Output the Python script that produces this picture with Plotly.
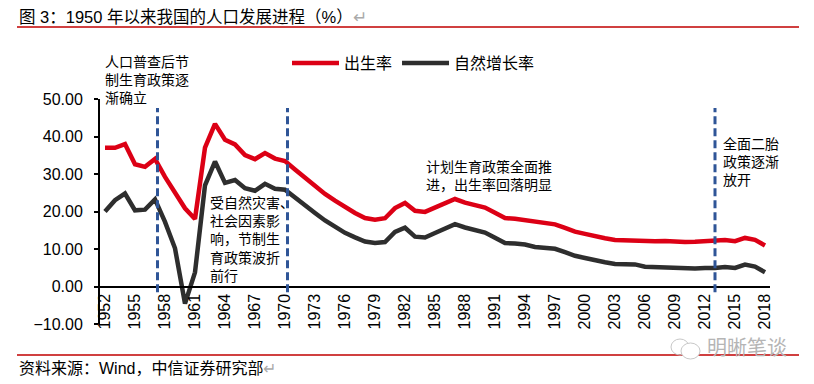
import plotly.graph_objects as go

years = list(range(1952, 2019))
birth_rate = [37.00, 37.00, 37.97, 32.60, 31.90, 34.03, 29.22, 24.78, 20.86, 18.02,
              37.01, 43.37, 39.14, 37.88, 35.05, 33.96, 35.59, 34.11, 33.43, 31.20,
              29.00, 26.80, 24.70, 22.90, 21.20, 19.60, 18.25, 17.82, 18.21, 20.91,
              22.28, 20.19, 19.90, 21.04, 22.43, 23.33, 22.37, 21.58, 21.06, 19.68,
              18.24, 18.09, 17.70, 17.12, 16.98, 16.57, 15.64, 14.64, 14.03, 13.38,
              12.86, 12.41, 12.29, 12.40, 12.09, 12.10, 12.14, 11.95, 11.90, 11.93,
              12.10, 12.08, 12.37, 12.07, 12.95, 12.43, 10.94]
growth_rate = [20.00, 23.00, 24.79, 20.32, 20.50, 23.23, 17.24, 10.19, -4.57, 3.78,
               26.99, 33.33, 27.64, 28.38, 26.22, 25.53, 27.38, 26.08, 25.83, 23.70,
               21.40, 19.60, 17.60, 15.80, 14.30, 13.10, 12.00, 11.61, 11.87, 14.55,
               15.68, 13.29, 13.08, 14.26, 15.57, 16.61, 15.73, 15.04, 14.39, 12.98,
               11.60, 11.45, 11.21, 10.55, 10.42, 10.06, 9.14, 8.18, 7.58, 6.95,
               6.45, 6.01, 5.87, 5.89, 5.28, 5.17, 5.08, 4.87, 4.79, 4.79,
               4.95, 4.92, 5.21, 4.96, 5.86, 5.32, 3.81]
tick_years = list(range(1952, 2019, 3))
policy_marks = [1957.25, 1970.25, 2013]

# page body has an 8px margin; the figure is sized/placed to compensate
OFF = 8
W, H = 814 - OFF, 384 - OFF
L, T = 100 - OFF, 99 - OFF
R = W - (770 - OFF)
B = H - (324 - OFF)
PW, PH = W - L - R, H - T - B

def px(x):
    return (x - OFF - L) / PW

def py(y):
    return (H - B - (y - OFF)) / PH

FONT = "Liberation Sans, Arial, Noto Sans CJK SC, sans-serif"
RED = "#DC0015"
BLACK = "#2E2E2E"
BLUE = "#2F5597"

fig = go.Figure()
fig.add_trace(go.Scatter(x=years, y=birth_rate, mode="lines", name="出生率",
                         line=dict(color=RED, width=4.5)))
fig.add_trace(go.Scatter(x=years, y=growth_rate, mode="lines", name="自然增长率",
                         line=dict(color=BLACK, width=4.5)))

shapes = []
for xm in policy_marks:
    shapes.append(dict(type="line", xref="x", yref="y", x0=xm, x1=xm, y0=-1.5, y1=47.6,
                       line=dict(color=BLUE, width=3, dash="8px,4px")))
# title and source rules
shapes.append(dict(type="line", xref="paper", yref="paper", x0=px(17), x1=px(799),
                   y0=py(27), y1=py(27), line=dict(color="#C00000", width=1.5)))
shapes.append(dict(type="line", xref="paper", yref="paper", x0=px(17), x1=px(799),
                   y0=py(355), y1=py(355), line=dict(color="#C00000", width=1.5)))
# watermark icon
shapes.append(dict(type="circle", xref="paper", yref="paper", x0=px(671), x1=px(689),
                   y0=py(355), y1=py(339), line=dict(color="#C8C8C8", width=1)))
shapes.append(dict(type="circle", xref="paper", yref="paper", x0=px(681), x1=px(700),
                   y0=py(359), y1=py(343), line=dict(color="#C8C8C8", width=1),
                   fillcolor="white"))

ann = []
def note(text, x, y, size=14, anchor="left", color="black"):
    ann.append(dict(text=text, xref="paper", yref="paper", x=px(x), y=py(y),
                    xanchor=anchor, yanchor="middle", showarrow=False, align="left",
                    font=dict(family=FONT, size=size, color=color)))

note("图 3：1950 年以来我国的人口发展进程（%）<span style='color:#AAAAAA'>↵</span>", 17, 17, 16.5)
note("资料来源：Wind，中信证券研究部<span style='color:#AAAAAA'>↵</span>", 17, 368, 16)
note("人口普查后节<br>制生育政策逐<br>渐确立", 103, 80)
note("受自然灾害、<br>社会因素影<br>响，节制生<br>育政策波折<br>前行", 208, 239)
note("计划生育政策全面推<br>进，出生率回落明显", 424, 176)
note("全面二胎<br>政策逐渐<br>放开", 721, 162)
note("明晰笔谈", 705, 348, 20, color="#B5B5B5")

fig.update_layout(
    width=W, height=H,
    margin=dict(l=L, r=R, t=T, b=B, autoexpand=False),
    paper_bgcolor="white", plot_bgcolor="white",
    font=dict(family=FONT, size=16, color="black"),
    showlegend=True,
    legend=dict(orientation="h", x=px(287), y=py(63), xanchor="left", yanchor="middle",
                font=dict(family=FONT, size=16, color="black"), bgcolor="rgba(0,0,0,0)",
                itemwidth=47, tracegroupgap=0),
    shapes=shapes, annotations=ann,
    xaxis=dict(range=[1951.5, 2018.5], tickmode="array", tickvals=tick_years,
               ticktext=[str(v) for v in tick_years], tickangle=-90,
               anchor="free", position=1/6, showline=True, linecolor="black", linewidth=2,
               ticks="", showgrid=False, zeroline=False, automargin=False,
               tickfont=dict(family=FONT, size=16, color="black")),
    yaxis=dict(range=[-10, 50], tickvals=[-10, 0, 10, 20, 30, 40, 50], tickformat=".2f",
               showline=True, linecolor="black", linewidth=2, ticks="outside", ticklen=4,
               tickwidth=2, tickcolor="black", showgrid=False, zeroline=False,
               automargin=False,
               ticklabelstandoff=8, tickfont=dict(family=FONT, size=16, color="black")),
)

fig.write_html("out.html")
